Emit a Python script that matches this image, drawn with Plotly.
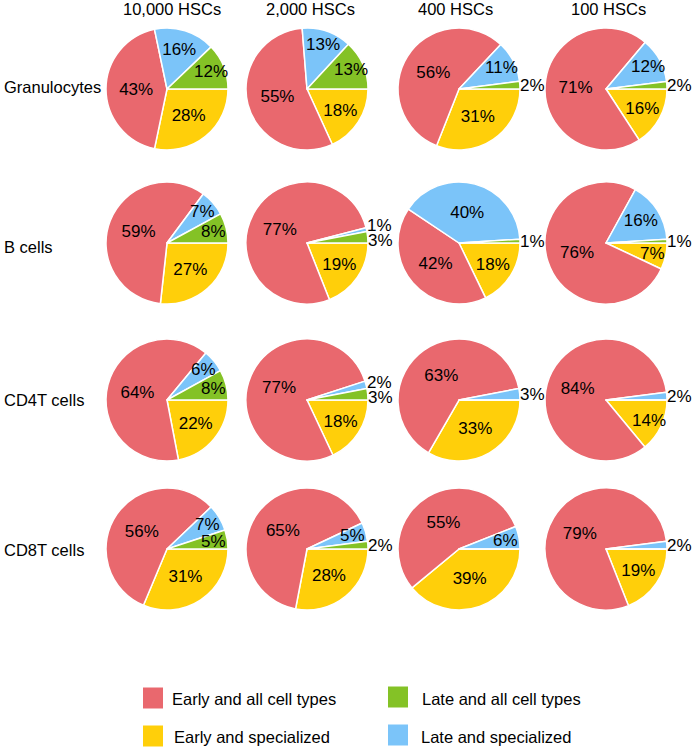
import math
import plotly.graph_objects as go

W, H = 693, 750

columns = ["10,000 HSCs", "2,000 HSCs", "400 HSCs", "100 HSCs"]
rows = ["Granulocytes", "B cells", "CD4T cells", "CD8T cells"]

# slice order, clockwise from 3 o'clock
categories = ["Early and specialized", "Early and all cell types",
              "Late and specialized", "Late and all cell types"]
colors = ["#FFCF0A", "#E9686E", "#7BC4F9", "#84C226"]

# values per row, one list per column: [early_spec, early_all, late_spec, late_all]
granulocytes = [[28, 43, 16, 12], [18, 55, 13, 13], [31, 56, 11, 2], [16, 71, 12, 2]]
b_cells = [[27, 59, 7, 8], [19, 77, 1, 3], [18, 42, 40, 1], [7, 76, 16, 1]]
cd4t_cells = [[22, 64, 6, 8], [18, 77, 2, 3], [33, 63, 3, 0], [14, 84, 2, 0]]
cd8t_cells = [[31, 56, 7, 5], [28, 65, 5, 2], [39, 55, 6, 0], [19, 79, 2, 0]]
data = [granulocytes, b_cells, cd4t_cells, cd8t_cells]

legend_order = ["Early and all cell types", "Late and all cell types",
                "Early and specialized", "Late and specialized"]

# layout geometry (pixels)
col_cx = [167, 307, 459, 606]
row_cy = [89, 243, 400, 549]
R = 61
title_x = [172, 310, 455, 608]
row_label_y = [87, 247, 400, 550]

FONT = "Liberation Sans, Arial, sans-serif"
BIG = 15      # slices at least this large use the pie's own inside text
SMALL = 4     # slices smaller than this get their label outside the pie


def px_x(x):
    return x / W


def px_y(y):
    return 1 - y / H


fig = go.Figure()
annotations = []

for ri, rowvals in enumerate(data):
    for ci, vals in enumerate(rowvals):
        cx, cy = col_cx[ci], row_cy[ri]
        texts = [f"{v}%" if v >= BIG else "" for v in vals]
        fig.add_trace(go.Pie(
            labels=categories,
            values=vals,
            text=texts,
            textinfo="text",
            textposition="inside",
            insidetextorientation="horizontal",
            sort=False,
            direction="clockwise",
            rotation=90,
            marker=dict(colors=colors, line=dict(color="white", width=1.5)),
            insidetextfont=dict(family=FONT, size=17, color="black"),
            domain=dict(x=[px_x(cx - R), px_x(cx + R)],
                        y=[px_y(cy + R), px_y(cy - R)]),
            showlegend=False,
            hoverinfo="label+text",
        ))

        # labels of the smaller slices, placed from the slice angles
        total = sum(vals)
        start = 0.0
        outside = []
        for v in vals:
            ang = v / total * 360.0
            mid = math.radians(start + ang / 2)
            start += ang
            if v <= 0 or v >= BIG:
                continue
            if v >= SMALL:
                r = 0.78 * R
                annotations.append(dict(
                    text=f"{v}%", x=px_x(cx + r * math.cos(mid)), y=px_y(cy + r * math.sin(mid)),
                    xref="paper", yref="paper", xanchor="center", yanchor="middle",
                    showarrow=False, font=dict(family=FONT, size=17, color="black")))
            else:
                outside.append([v, cx + R * math.cos(mid) - 1.5, cy + R * math.sin(mid)])
        # keep outside labels apart vertically
        if len(outside) > 1:
            outside.sort(key=lambda o: o[2])
            gap = 15.0
            for k in range(1, len(outside)):
                if outside[k][2] - outside[k - 1][2] < gap:
                    m = (outside[k][2] + outside[k - 1][2]) / 2
                    outside[k - 1][2] = m - gap / 2
                    outside[k][2] = m + gap / 2
        for v, ox, oy in outside:
            annotations.append(dict(
                text=f"{v}%", x=px_x(ox), y=px_y(oy),
                xref="paper", yref="paper", xanchor="left", yanchor="middle",
                showarrow=False, font=dict(family=FONT, size=17, color="black")))

for ci, t in enumerate(columns):
    annotations.append(dict(text=t, x=px_x(title_x[ci]), y=px_y(9), xref="paper", yref="paper",
                            xanchor="center", yanchor="middle", showarrow=False,
                            font=dict(family=FONT, size=16.5, color="black")))
for ri, t in enumerate(rows):
    annotations.append(dict(text=t, x=px_x(2), y=px_y(row_label_y[ri]), xref="paper", yref="paper",
                            xanchor="left", yanchor="middle", showarrow=False,
                            font=dict(family=FONT, size=16.5, color="black")))

# custom legend
leg_sw = [(143, 698), (388, 697), (143, 736), (388, 735)]
leg_tx = [(170, 699), (420, 699), (172, 737), (419, 737)]
shapes = []
for i, name in enumerate(legend_order):
    col = colors[categories.index(name)]
    sx, sy = leg_sw[i]
    shapes.append(dict(type="rect", xref="paper", yref="paper",
                       x0=px_x(sx), x1=px_x(sx + 20), y0=px_y(sy + 10.5), y1=px_y(sy - 10.5),
                       fillcolor=col, line=dict(width=0)))
    tx, ty = leg_tx[i]
    annotations.append(dict(text=name, x=px_x(tx), y=px_y(ty), xref="paper", yref="paper",
                            xanchor="left", yanchor="middle", showarrow=False,
                            font=dict(family=FONT, size=16.5, color="black")))

fig.update_layout(
    width=W, height=H,
    margin=dict(l=0, r=0, t=0, b=0),
    paper_bgcolor="white", plot_bgcolor="white",
    annotations=annotations, shapes=shapes,
    showlegend=False,
)

fig.write_html("out.html", config={"displayModeBar": False},
               post_script="document.body.style.margin='0';document.body.style.overflow='hidden';")
